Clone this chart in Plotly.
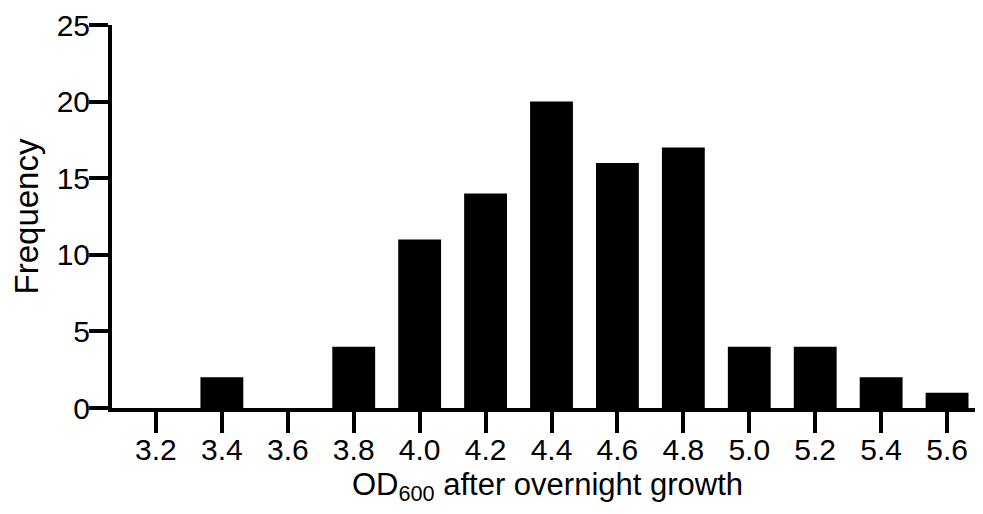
import plotly.graph_objects as go

od_bins = [3.2, 3.4, 3.6, 3.8, 4.0, 4.2, 4.4, 4.6, 4.8, 5.0, 5.2, 5.4, 5.6]
tick_labels = ["3.2", "3.4", "3.6", "3.8", "4.0", "4.2", "4.4", "4.6", "4.8", "5.0", "5.2", "5.4", "5.6"]
frequency = [0, 2, 0, 4, 11, 14, 20, 16, 17, 4, 4, 2, 1]
y_ticks = [0, 5, 10, 15, 20, 25]

FONT = "Liberation Sans, Arial, Helvetica, sans-serif"

fig = go.Figure()
fig.add_trace(go.Bar(
    x=od_bins, y=frequency, width=0.13,
    marker=dict(color="black", line=dict(width=0)),
))

fig.update_layout(
    width=975, height=506,
    margin=dict(l=104, r=0, t=17, b=106, autoexpand=False),
    plot_bgcolor="white", paper_bgcolor="white",
    showlegend=False,
    font=dict(family=FONT, size=30, color="black"),
    xaxis=dict(
        range=[3.0667, 5.709],
        tickmode="array", tickvals=od_bins, ticktext=tick_labels,
        ticks="outside", ticklen=21, tickwidth=4, tickcolor="black",
        tickfont=dict(size=30), ticklabelstandoff=-9,
        showline=True, linewidth=4, linecolor="black",
        showgrid=False, zeroline=False, automargin=False,
        title=dict(text="OD<sub>600</sub> after overnight growth", font=dict(size=31), standoff=9),
    ),
    yaxis=dict(
        range=[0, 25],
        tickmode="array", tickvals=y_ticks,
        ticks="outside", ticklen=19, tickwidth=4, tickcolor="black",
        tickfont=dict(size=30), ticklabelstandoff=-7,
        showline=True, linewidth=4, linecolor="black",
        showgrid=False, zeroline=False, automargin=False,
        title=dict(text="Frequency", font=dict(size=33), standoff=14),
    ),
)

fig.write_html("out.html")
